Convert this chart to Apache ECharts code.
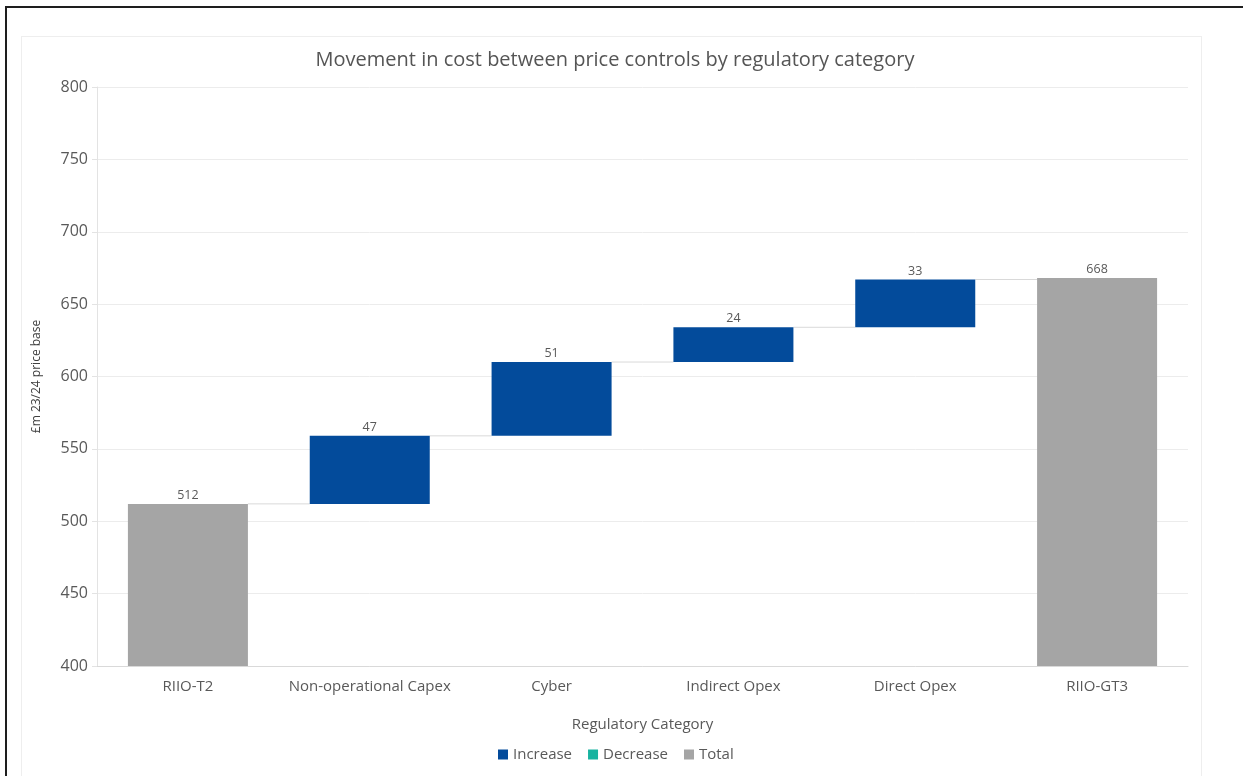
<!DOCTYPE html>
<html>
<head>
<meta charset="utf-8">
<script src="https://cdn.jsdelivr.net/npm/echarts@6/dist/echarts.min.js"></script>
<style>
  html, body { margin: 0; padding: 0; background: #fff; overflow: hidden; }
  #frame { position: absolute; left: 5px; top: 6px; width: 1300px; height: 900px;
           border-left: 2px solid #1e1e1e; border-top: 2px solid #1e1e1e; }
  #inner { position: absolute; left: 21px; top: 36px; width: 1179px; height: 900px;
           border: 1px solid #eeeeee; }
  #main { position: absolute; left: 0; top: 0; width: 1243px; height: 776px; }
</style>
</head>
<body>
<div id="frame"></div>
<div id="inner"></div>
<div id="main"></div>
<script>
// categories and values
const categories = ['RIIO-T2', 'Non-operational Capex', 'Cyber', 'Indirect Opex', 'Direct Opex', 'RIIO-GT3'];
const increase = ['-', 47, 51, 24, 33, '-'];
const decrease = ['-', '-', '-', '-', '-', '-'];
const total = [512, '-', '-', '-', '-', 668];
const yTicks = [400, 450, 500, 550, 600, 650, 700, 750, 800];

// invisible base + running level for connectors
const base = [];
const level = [];
let run = 0;
categories.forEach(function (c, i) {
  if (total[i] !== '-') {
    base.push('-');
    run = total[i];
  } else {
    base.push(run);
    run += increase[i];
  }
  level.push(run);
});
const connectors = level.slice(0, -1).map(function (v, i) { return [i, v]; });

const txt = '#595959';
const font = '"Open Sans", "Noto Sans", sans-serif';

const myChart = echarts.init(document.getElementById('main'));
myChart.setOption({
  animation: false,
  textStyle: { fontFamily: font },
  title: {
    text: 'Movement in cost between price controls by regulatory category',
    left: 610, top: 45, textAlign: 'center',
    textStyle: { fontSize: 20, fontWeight: 'normal', color: '#555', fontFamily: font }
  },
  legend: {
    data: ['Increase', 'Decrease', 'Total'],
    left: 493, top: 742,
    icon: 'rect', itemWidth: 10, itemHeight: 10, itemGap: 16,
    textStyle: { fontSize: 15, color: txt, fontFamily: font }
  },
  grid: { left: 97, right: 55, top: 87, bottom: 110 },
  xAxis: {
    type: 'category',
    data: categories,
    name: 'Regulatory Category',
    nameLocation: 'middle', nameGap: 51,
    nameTextStyle: { fontSize: 15, color: txt },
    axisLine: { lineStyle: { color: '#d9d9d9' } },
    axisTick: { length: 4, lineStyle: { color: '#d9d9d9' } },
    axisLabel: { fontSize: 15, color: txt, margin: 13, interval: 0 }
  },
  yAxis: {
    type: 'value',
    min: yTicks[0], max: yTicks[yTicks.length - 1], interval: 50,
    name: '£m 23/24 price base',
    nameLocation: 'middle', nameGap: 54, nameRotate: 90,
    nameTextStyle: { fontSize: 12, color: '#404040' },
    axisLine: { show: true, lineStyle: { color: '#e3e3e3' } },
    axisTick: { show: true, length: 5, lineStyle: { color: '#e3e3e3' } },
    axisLabel: { fontSize: 16, color: txt, margin: 9 },
    splitLine: { lineStyle: { color: '#ececec' } }
  },
  series: [
    {
      name: 'base', type: 'bar', stack: 'w', barWidth: '66%',
      itemStyle: { color: 'transparent' }, data: base, silent: true
    },
    {
      name: 'Increase', type: 'bar', stack: 'w',
      itemStyle: { color: '#034b9b' },
      label: { show: true, position: 'top', distance: 2, fontSize: 12.5, color: txt },
      data: increase
    },
    {
      name: 'Decrease', type: 'bar', stack: 'w',
      itemStyle: { color: '#17b3a0' }, data: decrease
    },
    {
      name: 'Total', type: 'bar', stack: 'w',
      itemStyle: { color: '#a5a5a5' },
      label: { show: true, position: 'top', distance: 2, fontSize: 12.5, color: txt },
      data: total
    },
    {
      name: 'connector', type: 'custom', silent: true, z: 1,
      renderItem: function (params, api) {
        const a = api.coord([api.value(0), api.value(1)]);
        const b = api.coord([api.value(0) + 1, api.value(1)]);
        const half = api.size([1, 0])[0] * 0.33;
        return {
          type: 'line',
          shape: { x1: a[0] + half, y1: a[1], x2: b[0] - half, y2: b[1] },
          style: { stroke: '#d9d9d9', lineWidth: 1 }
        };
      },
      data: connectors
    }
  ]
});
</script>
</body>
</html>
